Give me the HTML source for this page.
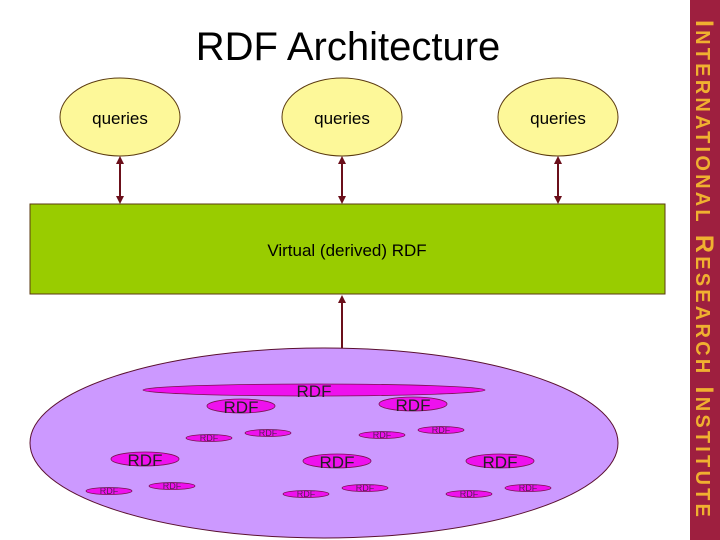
<!DOCTYPE html>
<html><head><meta charset="utf-8"><style>
body{margin:0;width:720px;height:540px;overflow:hidden;background:#fff;font-family:"Liberation Sans",sans-serif;}
svg{display:block}
</style></head><body>
<svg width="720" height="540" xmlns="http://www.w3.org/2000/svg" font-family="Liberation Sans, sans-serif">
<defs>
<marker id="a" markerWidth="8" markerHeight="8" refX="6" refY="4" orient="auto-start-reverse" markerUnits="userSpaceOnUse"><path d="M0,0 L8,4 L0,8 z" fill="#6b0f1a"/></marker>
</defs>
<rect width="720" height="540" fill="#fff"/>
<text x="348" y="60" font-size="40" text-anchor="middle" fill="#000">RDF Architecture</text>
<g fill="#fdf899" stroke="#5a3a10" stroke-width="1">
<ellipse cx="120" cy="117" rx="60" ry="39"/>
<ellipse cx="342" cy="117" rx="60" ry="39"/>
<ellipse cx="558" cy="117" rx="60" ry="39"/>
</g>
<g font-size="17" text-anchor="middle" fill="#000">
<text x="120" y="124">queries</text><text x="342" y="124">queries</text><text x="558" y="124">queries</text>
</g>
<g stroke="#6b0f1a" stroke-width="2">
<line x1="120" y1="158" x2="120" y2="202" marker-start="url(#a)" marker-end="url(#a)"/>
<line x1="342" y1="158" x2="342" y2="202" marker-start="url(#a)" marker-end="url(#a)"/>
<line x1="558" y1="158" x2="558" y2="202" marker-start="url(#a)" marker-end="url(#a)"/>
</g>
<rect x="30" y="204" width="635" height="90" fill="#99cc00" stroke="#5a3a10" stroke-width="1"/>
<text x="347" y="256" font-size="17" text-anchor="middle">Virtual (derived) RDF</text>
<ellipse cx="324" cy="443" rx="294" ry="95" fill="#cc99ff" stroke="#5a1030" stroke-width="1"/>
<line x1="342" y1="348" x2="342" y2="297" stroke="#6b0f1a" stroke-width="2" marker-end="url(#a)"/>
<g fill="#ee11ee" stroke="#7a1050" stroke-width="0.8">
<ellipse cx="314" cy="390" rx="171" ry="6"/>
<ellipse cx="241" cy="406" rx="34" ry="7"/>
<ellipse cx="413" cy="404" rx="34" ry="7"/>
<ellipse cx="145" cy="459" rx="34" ry="7"/>
<ellipse cx="337" cy="461" rx="34" ry="7"/>
<ellipse cx="500" cy="461" rx="34" ry="7"/>
<ellipse cx="209" cy="438" rx="23" ry="3.5"/>
<ellipse cx="268" cy="433" rx="23" ry="3.5"/>
<ellipse cx="382" cy="435" rx="23" ry="3.5"/>
<ellipse cx="441" cy="430" rx="23" ry="3.5"/>
<ellipse cx="109" cy="491" rx="23" ry="3.5"/>
<ellipse cx="172" cy="486" rx="23" ry="3.5"/>
<ellipse cx="306" cy="494" rx="23" ry="3.5"/>
<ellipse cx="365" cy="488" rx="23" ry="3.5"/>
<ellipse cx="469" cy="494" rx="23" ry="3.5"/>
<ellipse cx="528" cy="488" rx="23" ry="3.5"/>
</g>
<g font-size="17" text-anchor="middle" fill="#222">
<text x="314" y="397">RDF</text>
<text x="241" y="413">RDF</text>
<text x="413" y="411">RDF</text>
<text x="145" y="466">RDF</text>
<text x="337" y="468">RDF</text>
<text x="500" y="468">RDF</text>
</g>
<g font-size="9" text-anchor="middle" fill="#552255">
<text x="209" y="441">RDF</text><text x="268" y="436">RDF</text><text x="382" y="438">RDF</text><text x="441" y="433">RDF</text>
<text x="109" y="494">RDF</text><text x="172" y="489">RDF</text><text x="306" y="497">RDF</text><text x="365" y="491">RDF</text>
<text x="469" y="497">RDF</text><text x="528" y="491">RDF</text>
</g>
<rect x="690" y="0" width="30" height="540" fill="#9e1f3f"/>
<text transform="translate(696,270) rotate(90)" text-anchor="middle" font-size="25" font-weight="bold" fill="#f0b030" letter-spacing="3.2">I<tspan font-size="20">NTERNATIONAL</tspan> R<tspan font-size="20">ESEARCH</tspan> I<tspan font-size="20">NSTITUTE</tspan></text>
</svg>
</body></html>
